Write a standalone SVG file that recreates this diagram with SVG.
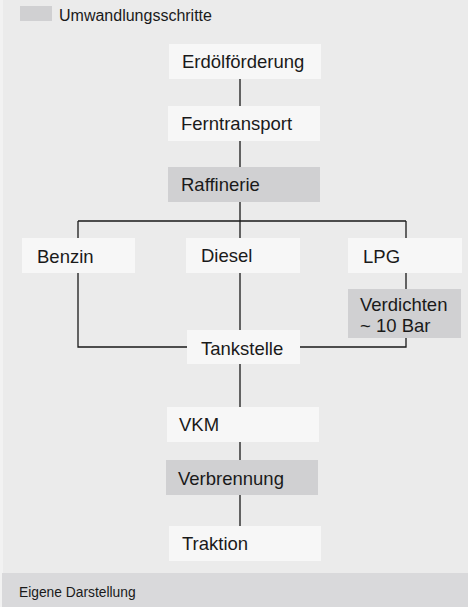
<svg xmlns="http://www.w3.org/2000/svg" width="468" height="607" viewBox="0 0 468 607">
<style>
.w{fill:#f7f7f7}
.g{fill:#d0d0d2}
.t{font-family:"Liberation Sans",Arial,sans-serif;font-size:18.5px;fill:#1a1a1a}
.c{stroke:#1a1a1a;stroke-width:1.3;fill:none}
</style>
<rect x="0" y="0" width="468" height="607" fill="#f2f2f2"/>
<rect x="3" y="0" width="465" height="607" fill="#ebebeb"/>
<g id="legend">
<rect x="20" y="6" width="32" height="15" class="g"/>
<text x="59" y="21" class="t" style="font-size:16px">Umwandlungsschritte</text>
</g>
<g id="connectors">
<path class="c" d="M240 79V106M240 141V168M240 202V238M78 221H406M78 221V238M406 221V238M78 273V347H187M240 273V330M406 273V289M406 338V347H300M240 364V407M240 442V460M240 495V526"/>
</g>
<g id="erdoel"><rect x="169" y="44" width="152" height="35" class="w"/><text x="182" y="68" class="t">Erdölförderung</text></g>
<g id="ferntransport"><rect x="168" y="106" width="152" height="35" class="w"/><text x="181" y="130" class="t">Ferntransport</text></g>
<g id="raffinerie"><rect x="168" y="167" width="152" height="35" class="g"/><text x="181" y="191" class="t">Raffinerie</text></g>
<g id="benzin"><rect x="22" y="238" width="113" height="35" class="w"/><text x="37" y="263" class="t">Benzin</text></g>
<g id="diesel"><rect x="186" y="238" width="114" height="35" class="w"/><text x="201" y="262" class="t">Diesel</text></g>
<g id="lpg"><rect x="348" y="238" width="114" height="35" class="w"/><text x="363" y="263" class="t">LPG</text></g>
<g id="verdichten"><rect x="348" y="289" width="113" height="49" class="g"/><text x="360" y="311" class="t">Verdichten</text><text x="360" y="332" class="t">~ 10 Bar</text></g>
<g id="tankstelle"><rect x="187" y="330" width="113" height="34" class="w"/><text x="201" y="355" class="t">Tankstelle</text></g>
<g id="vkm"><rect x="167" y="407" width="152" height="35" class="w"/><text x="179" y="431" class="t">VKM</text></g>
<g id="verbrennung"><rect x="166" y="460" width="152" height="35" class="g"/><text x="178" y="485" class="t">Verbrennung</text></g>
<g id="traktion"><rect x="169" y="526" width="152" height="35" class="w"/><text x="182" y="550" class="t">Traktion</text></g>
<g id="footer">
<rect x="2" y="573" width="466" height="34" fill="#d9d9db"/>
<text x="19" y="597" class="t" style="font-size:13.8px">Eigene Darstellung</text>
</g>
</svg>
